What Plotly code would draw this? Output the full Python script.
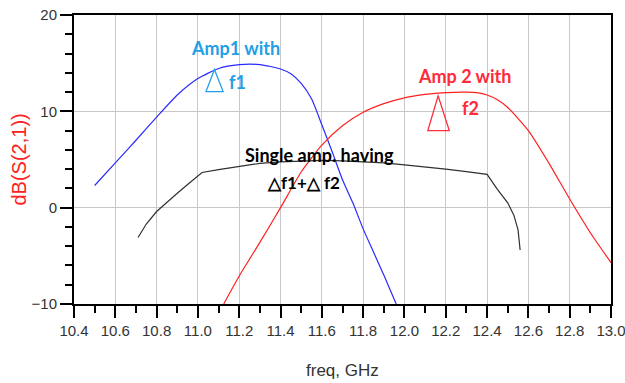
import plotly.graph_objects as go

# ---- data ----
amp1_freq = [10.5, 10.6, 10.7, 10.8, 10.9, 11.0, 11.1, 11.2, 11.3, 11.4, 11.45, 11.5,
             11.55, 11.6, 11.65, 11.7, 11.75, 11.8, 11.85, 11.9, 11.96]
amp1_db = [2.3, 4.65, 7.0, 9.4, 11.7, 13.4, 14.45, 14.85, 14.85, 14.4, 13.9, 12.9,
           11.3, 8.6, 5.8, 2.9, 0.5, -2.2, -4.6, -7.0, -10.0]

amp2_freq = [11.125, 11.2, 11.3, 11.4, 11.5, 11.6, 11.7, 11.8, 11.9, 12.0, 12.1, 12.2,
             12.3, 12.35, 12.4, 12.45, 12.5, 12.6, 12.7, 12.8, 12.9, 13.0]
amp2_db = [-10.0, -7.1, -3.6, 0.0, 3.7, 6.5, 8.5, 9.9, 10.8, 11.4, 11.75, 11.95,
           12.0, 11.95, 11.7, 11.2, 10.4, 8.0, 4.6, 0.9, -2.6, -5.7]

single_freq = [10.71, 10.75, 10.8, 10.85, 10.9, 10.95, 11.0, 11.02, 11.1, 11.2, 11.3,
               11.4, 11.5, 11.6, 11.7, 11.8, 11.9, 12.0, 12.1, 12.2, 12.3, 12.4,
               12.45, 12.5, 12.53, 12.55, 12.56]
single_db = [-3.1, -1.7, -0.4, 0.6, 1.5, 2.4, 3.3, 3.65, 3.95, 4.3, 4.6,
             4.75, 4.85, 4.9, 4.85, 4.75, 4.65, 4.45, 4.25, 4.0, 3.75, 3.45,
             1.9, 0.5, -0.8, -2.3, -4.4]

x_ticks = [10.4, 10.6, 10.8, 11.0, 11.2, 11.4, 11.6, 11.8, 12.0, 12.2, 12.4, 12.6, 12.8, 13.0]
y_ticks = [-10, 0, 10, 20]

fig = go.Figure()
fig.add_trace(go.Scatter(x=amp1_freq, y=amp1_db, mode="lines",
                         line=dict(color="#2a2aff", width=1.2, shape="spline", smoothing=0.6),
                         showlegend=False))
fig.add_trace(go.Scatter(x=amp2_freq, y=amp2_db, mode="lines",
                         line=dict(color="#ff2020", width=1.2, shape="spline", smoothing=0.6),
                         showlegend=False))
fig.add_trace(go.Scatter(x=single_freq, y=single_db, mode="lines",
                         line=dict(color="#303030", width=1.2),
                         showlegend=False))

tick_font = dict(family="Liberation Sans Narrow, Arial Narrow, Liberation Sans, sans-serif",
                 size=15, color="#333333")
txt_font = "Lato, Open Sans, sans-serif"

fig.update_layout(
    width=625, height=383,
    margin=dict(l=74, r=14, t=15, b=79),
    plot_bgcolor="white", paper_bgcolor="white",
    xaxis=dict(range=[10.4, 13.0], tickvals=x_ticks, tickformat=".1f", automargin=False,
               ticklabeloverflow="allow",
               showgrid=True, gridcolor="#c8c8c8", gridwidth=1,
               showline=True, linecolor="black", linewidth=2, mirror=True,
               ticks="outside", ticklen=12, tickwidth=1.5, tickcolor="black",
               minor=dict(dtick=0.1, tick0=10.4, ticks="outside", ticklen=7,
                          tickwidth=1.5, tickcolor="black", showgrid=False),
               tickfont=tick_font, zeroline=False),
    yaxis=dict(range=[-10, 20], tickvals=y_ticks, automargin=False,
               ticklabeloverflow="allow",
               showgrid=True, gridcolor="#c8c8c8", gridwidth=1,
               showline=True, linecolor="black", linewidth=2, mirror=True,
               ticks="outside", ticklen=12, tickwidth=1.5, tickcolor="black",
               minor=dict(dtick=2, tick0=-10, ticks="outside", ticklen=7,
                          tickwidth=1.5, tickcolor="black", showgrid=False),
               tickfont=tick_font, zeroline=False),
)

# axis titles
fig.add_annotation(text="freq, GHz", x=0.5, y=0, xref="paper", yref="paper",
                   yshift=-66, showarrow=False, yanchor="middle",
                   font=dict(family="Liberation Sans, Arial", size=17, color="#333333"))
fig.add_annotation(text="dB(S(2,1))", x=0, y=0.5, xref="paper", yref="paper",
                   xshift=-56, showarrow=False, textangle=-90, xanchor="center",
                   font=dict(family="Liberation Sans, Arial", size=20, color="#ff2020"))

blue_txt = "#22a0e6"
red_txt = "#ff2a3a"

def ann(text, x, y, color, size=18):
    fig.add_annotation(text=text, x=x, y=y, xref="x", yref="y", showarrow=False,
                       font=dict(family=txt_font, size=size, color=color, weight="bold"))

ann("Amp1 with", 11.18, 16.6, blue_txt)
ann("f1", 11.19, 13.0, blue_txt)
ann("Amp 2 with", 12.29, 13.7, red_txt)
ann("f2", 12.32, 10.3, red_txt)
ann("Single amp. having", 11.59, 5.5, "black")
ann("△f1+△ f2", 11.51, 2.6, "black", size=17)

# outlined triangles (annotation glyphs)
fig.add_shape(type="path", xref="x", yref="y",
              path="M 11.080 14.35 L 11.039 12.05 L 11.122 12.05 Z",
              line=dict(color=blue_txt, width=1.3), fillcolor="rgba(0,0,0,0)")
fig.add_shape(type="path", xref="x", yref="y",
              path="M 12.163 11.6 L 12.113 8.0 L 12.217 8.0 Z",
              line=dict(color=red_txt, width=1.3), fillcolor="rgba(0,0,0,0)")

fig.write_html("out.html", config={"displayModeBar": False},
               post_script="document.body.style.margin='0';document.body.style.overflow='hidden';")
